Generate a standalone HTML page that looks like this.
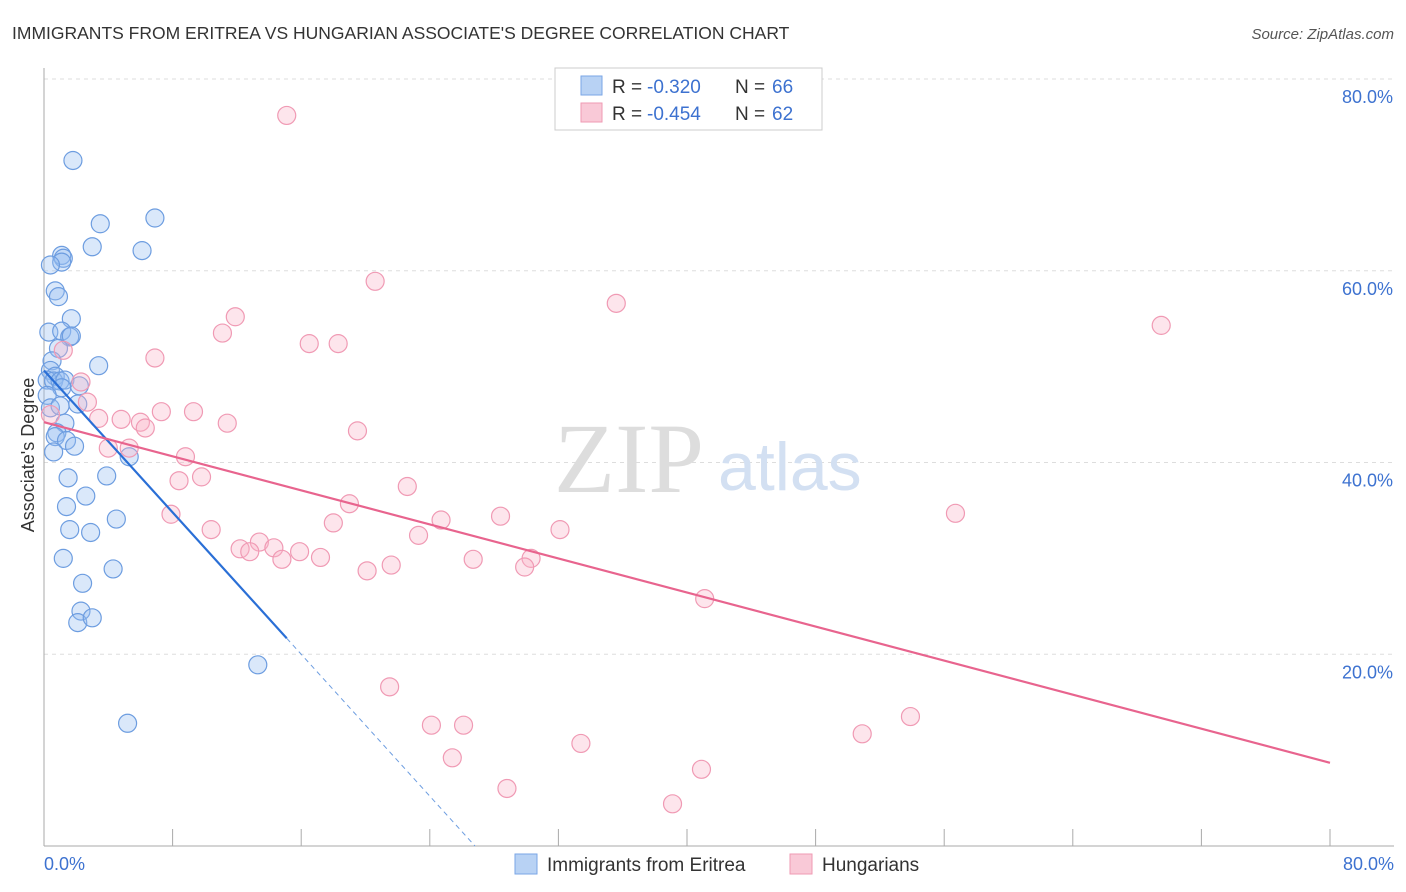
<!DOCTYPE html>
<html><head><meta charset="utf-8"><style>
body{margin:0;background:#fff;font-family:"Liberation Sans",sans-serif}
svg{display:block}
</style></head><body>
<svg width="1406" height="892" xmlns="http://www.w3.org/2000/svg">
<text x="12" y="39" font-size="17.5" fill="#333">IMMIGRANTS FROM ERITREA VS HUNGARIAN ASSOCIATE'S DEGREE CORRELATION CHART</text>
<text x="1394" y="39" font-size="15" fill="#555" font-style="italic" text-anchor="end">Source: ZipAtlas.com</text>
<g id="grid"></g>
<text x="554" y="492" font-size="100" fill="#ddd" font-family="Liberation Serif">ZIP</text>
<text x="718" y="490" font-size="68" fill="#d3e0f2">atlas</text>
<g id="marks"></g>
<text transform="translate(34,455) rotate(-90)" font-size="18" fill="#333" text-anchor="middle">Associate's Degree</text>
<g>
<rect x="555" y="68" width="267" height="62" fill="#fff" stroke="#ccc"/>
<rect x="581" y="76" width="21" height="19" fill="#b8d2f4" stroke="#7aa6e6"/>
<rect x="581" y="103" width="21" height="19" fill="#f9c9d7" stroke="#ef9ab3"/>
<text x="612" y="93" font-size="19" fill="#333">R =</text>
<text x="647" y="93" font-size="19" fill="#3d72d0">-0.320</text>
<text x="735" y="93" font-size="19" fill="#333">N =</text>
<text x="772" y="93" font-size="19" fill="#3d72d0">66</text>
<text x="612" y="120" font-size="19" fill="#333">R =</text>
<text x="647" y="120" font-size="19" fill="#3d72d0">-0.454</text>
<text x="735" y="120" font-size="19" fill="#333">N =</text>
<text x="772" y="120" font-size="19" fill="#3d72d0">62</text>
</g>
<g>
<rect x="515" y="854" width="22" height="20" fill="#b8d2f4" stroke="#7aa6e6"/>
<text x="547" y="871" font-size="19" fill="#333">Immigrants from Eritrea</text>
<rect x="790" y="854" width="22" height="20" fill="#f9c9d7" stroke="#ef9ab3"/>
<text x="822" y="871" font-size="19" fill="#333">Hungarians</text>
</g>
</svg>
<script>
const blueX=[1.8,6.9,3.5,3.0,6.1,1.1,1.2,1.1,0.4,0.7,0.9,1.7,0.3,1.1,1.6,1.7,0.9,3.4,0.5,0.4,0.7,0.2,0.6,1.0,1.3,2.2,1.1,0.2,2.1,0.4,1.0,1.3,0.8,0.7,1.4,1.9,0.6,5.3,3.9,1.5,2.6,1.4,4.5,1.6,2.9,1.2,4.3,2.4,2.3,2.1,3.0,13.3,5.2];
const blueY=[71.5,65.5,64.9,62.5,62.1,61.6,61.3,60.9,60.6,57.9,57.3,55.0,53.6,53.7,53.1,53.2,51.9,50.1,50.6,49.6,49.0,48.6,48.5,48.5,48.6,48.0,47.8,47.0,46.1,45.7,45.9,44.1,43.1,42.7,42.3,41.7,41.1,40.6,38.6,38.4,36.5,35.4,34.1,33.0,32.7,30.0,28.9,27.4,24.5,23.3,23.8,18.9,12.8];
const pinkX=[15.1,20.6,35.6,69.5,11.9,11.1,16.5,18.3,1.2,6.9,2.3,2.7,7.3,9.3,3.4,4.8,6.0,6.3,11.4,19.5,4.0,5.3,8.8,9.8,8.4,22.6,19.0,7.9,56.7,24.7,28.4,18.0,10.4,32.1,23.3,13.4,12.2,12.8,14.3,15.9,14.8,17.2,26.7,30.3,29.9,21.6,20.1,41.1,21.5,24.1,26.1,53.9,50.9,33.4,25.4,40.9,28.8,39.1,0.4];
const pinkY=[76.2,58.9,56.6,54.3,55.2,53.5,52.4,52.4,51.7,50.9,48.4,46.3,45.3,45.3,44.6,44.5,44.2,43.6,44.1,43.3,41.5,41.5,40.6,38.5,38.1,37.5,35.7,34.6,34.7,34.0,34.4,33.7,33.0,33.0,32.4,31.7,31.0,30.7,31.1,30.7,29.9,30.1,29.9,30.0,29.1,29.3,28.7,25.8,16.6,12.6,12.6,13.5,11.7,10.7,9.2,8.0,6.0,4.4,45.0];
const blueLine=[49.6,-1.85];
const pinkLine=[44.2,-0.444];
const yTicks=[20,40,60,80];
const NS='http://www.w3.org/2000/svg';
const sx=v=>44+v/80*1286, sy=v=>846-v/80*767;
function mk(t,a,p){const e=document.createElementNS(NS,t);for(const k in a)e.setAttribute(k,a[k]);p.appendChild(e);return e;}
const g=document.getElementById('grid'),m=document.getElementById('marks');
yTicks.forEach(t=>{
 const l=mk('line',{x1:44,x2:1394,y1:sy(t),y2:sy(t),stroke:'#ddd','stroke-dasharray':'4,4'},g);
 
 
 const tx=mk('text',{x:1393,y:sy(t)+24,'font-size':18,fill:'#3d72d0','text-anchor':'end'},g);tx.textContent=t.toFixed(1)+'%';
 
 
});
const ax=mk('line',{x1:44,x2:44,y1:68,y2:846,stroke:'#aaa'},g);


const axx=mk('line',{x1:44,x2:1394,y1:846,y2:846,stroke:'#aaa'},g);


for(let i=1;i<=10;i++){const tk=mk('line',{x1:sx(i*8),x2:sx(i*8),y1:829,y2:846,stroke:'#aaa'},g);
 
 }
[[0,'0.0%',44,'start'],[80,'80.0%',1394,'end']].forEach(d=>{const t=mk('text',{x:d[2],y:870,'font-size':18,fill:'#3d72d0','text-anchor':d[3]},g);t.textContent=d[1];
 
 });
blueX.forEach((x,i)=>{const c=mk('circle',{cx:sx(x),cy:sy(blueY[i]),r:9,fill:'rgba(150,190,240,0.35)',stroke:'#6d9de0','stroke-width':1.2},m);
 
 });
pinkX.forEach((x,i)=>{const c=mk('circle',{cx:sx(x),cy:sy(pinkY[i]),r:9,fill:'rgba(248,180,200,0.35)',stroke:'#f09ab4','stroke-width':1.2},m);
 
 });
const bEnd=15.1, bZero=-blueLine[0]/blueLine[1];
let l1=mk('line',{x1:sx(0),y1:sy(blueLine[0]),x2:sx(bEnd),y2:sy(blueLine[0]+blueLine[1]*bEnd),stroke:'#2a6fd6','stroke-width':2.2},m);


let l2=mk('line',{x1:sx(bEnd),y1:sy(blueLine[0]+blueLine[1]*bEnd),x2:sx(bZero),y2:sy(0),stroke:'#6d9de0','stroke-width':1,'stroke-dasharray':'5,4'},m);


let l3=mk('line',{x1:sx(0),y1:sy(pinkLine[0]),x2:sx(80),y2:sy(pinkLine[0]+pinkLine[1]*80),stroke:'#e8648e','stroke-width':2.2},m);


</script>
</body></html>
